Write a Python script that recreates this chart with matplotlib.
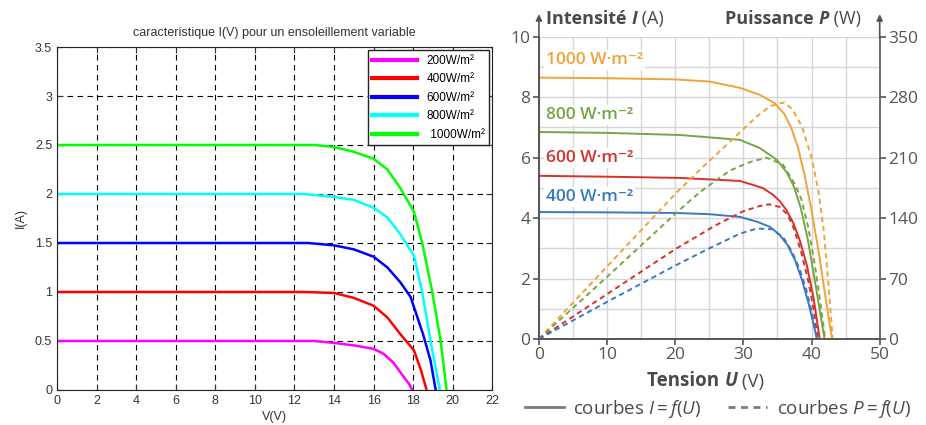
import matplotlib.pyplot as plt
from matplotlib.lines import Line2D
from matplotlib.ticker import MultipleLocator, FormatStrFormatter

plt.rcParams["mathtext.fontset"] = "custom"
plt.rcParams["mathtext.rm"] = "Open Sans"
plt.rcParams["mathtext.it"] = "Open Sans:italic"

# ---- left chart data : I(V)
left_labels = ["200W/m²", "400W/m²", "600W/m²", "800W/m²", " 1000W/m²"]
left_colors = ["#ff00ff", "#ff0000", "#0000ff", "#00ffff", "#00ff00"]
v200 = [0, 12, 13, 14, 15, 16, 16.5, 17, 17.5, 17.8, 17.95]
i200 = [0.5, 0.5, 0.5, 0.48, 0.455, 0.42, 0.37, 0.28, 0.14, 0.06, 0]
v400 = [0, 12.5, 14, 15, 16, 16.7, 17.35, 18.04, 18.4, 18.68]
i400 = [1.0, 1.0, 0.99, 0.94, 0.86, 0.74, 0.57, 0.405, 0.2, 0]
v600 = [0, 12.7, 14, 15, 16, 16.7, 17.35, 17.87, 18.5, 18.88, 19.14]
i600 = [1.5, 1.5, 1.476, 1.435, 1.36, 1.25, 1.1, 0.95, 0.57, 0.3, 0]
v800 = [0, 12.5, 14, 15, 16, 16.7, 17.35, 18.04, 18.46, 18.88, 19.35]
i800 = [2.0, 2.0, 1.97, 1.94, 1.86, 1.76, 1.59, 1.37, 1.0, 0.5, 0]
v1000 = [0, 13, 14, 15, 16, 16.7, 17.35, 18.04, 18.46, 18.97, 19.39, 19.69]
i1000 = [2.5, 2.5, 2.48, 2.43, 2.36, 2.25, 2.06, 1.82, 1.5, 1.0, 0.5, 0]
left_curves = [(v200, i200), (v400, i400), (v600, i600), (v800, i800), (v1000, i1000)]

# ---- right chart data : I(U) and P(U)
right_labels = ["1000 W·m⁻²", "800 W·m⁻²", "600 W·m⁻²", "400 W·m⁻²"]
right_colors = ["#f0a33a", "#77a542", "#d8312b", "#3b78c4"]
label_y = [9.24, 7.42, 6.0, 4.69]

ui1000 = [0, 10, 20, 25, 29.5, 32.4, 34.6, 36, 37, 38, 39, 40, 41, 42, 43]
I1000 = [8.65, 8.63, 8.59, 8.52, 8.31, 8.08, 7.8, 7.45, 7.0, 6.35, 5.4, 4.25, 2.95, 1.45, 0]
up1000 = [0, 10, 20, 23.6, 28.5, 32, 34, 36, 37.2, 38.6, 40, 41, 41.8, 42.5, 43.1]
P1000 = [0, 84, 168, 196, 232, 258, 270, 274, 266, 246, 210, 172, 125, 62, 0]

ui800 = [0, 10, 20.7, 29.5, 32.4, 34.9, 36.4, 37.4, 38.4, 39.4, 40.4, 41.2, 41.9]
I800 = [6.85, 6.82, 6.75, 6.59, 6.32, 5.93, 5.5, 5.05, 4.35, 3.35, 2.05, 0.95, 0]
up800 = [0, 10, 20.7, 23.6, 28, 31, 33.4, 35.8, 37.5, 38.5, 39.5, 40.5, 41.3, 42]
P800 = [0, 72, 150, 170, 195, 205, 210, 202, 180, 162, 130, 85, 42, 0]

ui600 = [0, 10, 20.7, 29.5, 32.8, 34.3, 35.3, 36.3, 37.3, 38.3, 39.3, 40.3, 41.2]
I600 = [5.4, 5.37, 5.33, 5.23, 5.0, 4.78, 4.57, 4.27, 3.85, 3.25, 2.45, 1.35, 0]
up600 = [0, 10, 20, 26, 30, 32.4, 33.8, 35.3, 36.5, 37.5, 38.5, 39.5, 40.3, 40.9]
P600 = [0, 52, 104, 132, 148, 154, 156, 153, 144, 126, 100, 68, 35, 0]

ui400 = [0, 10, 20, 25, 29.5, 32, 33.9, 35.3, 36.5, 37.6, 38.6, 39.6, 40.8]
I400 = [4.2, 4.19, 4.17, 4.13, 4.04, 3.88, 3.71, 3.45, 3.1, 2.6, 1.95, 1.15, 0]
up400 = [0, 10, 20, 25, 29.5, 32, 34.3, 36, 37.2, 38.3, 39.2, 40, 40.8]
P400 = [0, 43, 85, 105, 122, 128, 127, 116, 100, 80, 58, 32, 0]

right_curves = [(ui1000, I1000, up1000, P1000), (ui800, I800, up800, P800),
                (ui600, I600, up600, P600), (ui400, I400, up400, P400)]

fig = plt.figure(figsize=(9.26, 4.25), dpi=100)

# ================= left chart (matlab look)
lfont = "Liberation Sans"
ax1 = fig.add_axes([0.0616, 0.0824, 0.470, 0.807])
for (v, i), c, lab in zip(left_curves, left_colors, left_labels):
    ax1.plot(v, i, color=c, lw=1.8, label=lab)
ax1.set_xlim(0, 22)
ax1.set_ylim(0, 3.5)
ax1.xaxis.set_major_locator(MultipleLocator(2))
ax1.yaxis.set_major_locator(MultipleLocator(0.5))
ax1.yaxis.set_major_formatter(FormatStrFormatter("%g"))
ax1.grid(True, color="black", linestyle=(0, (5, 4)), lw=0.8)
ax1.tick_params(direction="in", top=True, right=True, length=4, labelsize=9,
                colors="#333333")
for lab in ax1.get_xticklabels() + ax1.get_yticklabels():
    lab.set_family(lfont)
for s in ax1.spines.values():
    s.set_color("#222222")
    s.set_linewidth(0.8)
ax1.set_title("caracteristique I(V) pour un ensoleillement variable",
              fontsize=9, family=lfont, color="#333333", pad=8)
ax1.set_xlabel("V(V)", fontsize=9, family=lfont, color="#333333", labelpad=3)
ax1.set_ylabel("I(A)", fontsize=9, family=lfont, color="#333333", labelpad=6)
leg = ax1.legend(loc="upper right", fancybox=False, edgecolor="#222222",
                 framealpha=1, handlelength=3.8, borderaxespad=0.25,
                 labelspacing=0.55, prop={"family": lfont, "size": 8.5})
for h in leg.get_lines():
    h.set_linewidth(3)

# ================= right chart (textbook look)
rfont = ["Open Sans", "DejaVu Sans"]
grey = "#555555"
ax2 = fig.add_axes([0.582, 0.2024, 0.368, 0.711])
ax3 = ax2.twinx()
for (ui, I, up, P), c, lab, ly in zip(right_curves, right_colors, right_labels, label_y):
    ax2.plot(ui, I, color=c, lw=1.4)
    ax3.plot(up, P, color=c, lw=1.4, linestyle=(0, (2.7, 2)))
    ax2.text(1.0, ly, lab, color=c, fontsize=12.5, fontweight="semibold",
             family=rfont, va="center", ha="left",
             bbox=dict(facecolor="white", edgecolor="none", pad=1.5))
ax2.set_xlim(0, 50)
ax2.set_ylim(0, 10)
ax3.set_ylim(0, 350)
ax2.xaxis.set_major_locator(MultipleLocator(10))
ax2.xaxis.set_minor_locator(MultipleLocator(5))
ax2.yaxis.set_major_locator(MultipleLocator(2))
ax2.yaxis.set_minor_locator(MultipleLocator(1))
ax3.yaxis.set_major_locator(MultipleLocator(70))
ax2.grid(True, which="both", color="#d6d6d6", lw=1.0)
ax2.set_axisbelow(True)
for a in (ax2, ax3):
    a.tick_params(which="major", direction="out", length=4, width=1.2,
                  color=grey, labelcolor=grey, labelsize=12.5, pad=2)
    a.tick_params(which="minor", length=0)
    a.spines["top"].set_visible(False)
    for s in a.spines.values():
        s.set_color(grey)
        s.set_linewidth(1.2)
    for lab in a.get_xticklabels() + a.get_yticklabels():
        lab.set_family(rfont)
ax2.spines["right"].set_visible(False)

# axis arrows above the two y axes
for xa in (0, 1):
    ax2.annotate("", xy=(xa, 1.075), xytext=(xa, 0.995), xycoords="axes fraction",
                 arrowprops=dict(arrowstyle="-|>", color=grey, lw=1.2,
                                 mutation_scale=9, shrinkA=0, shrinkB=0))


def chained(x, y, parts, size=13.5):
    # parts: list of (text, weight, style) drawn one after another
    t = fig.text(x, y, parts[0][0], fontsize=size, fontweight=parts[0][1],
                 style=parts[0][2], family=rfont, color="#4a4a4a",
                 ha="left", va="bottom")
    for txt, w, st in parts[1:]:
        t = ax2.annotate(txt, xy=(1, 0), xycoords=t, fontsize=size,
                         fontweight=w, style=st, family=rfont, color="#4a4a4a",
                         ha="left", va="bottom")
    return t


chained(0.590, 0.934, [("Intensité ", "bold", "normal"), ("I", "bold", "italic"),
                       (" (A)", "normal", "normal")], size=13)
chained(0.783, 0.934, [("Puissance ", "bold", "normal"), ("P", "bold", "italic"),
                       (" (W)", "normal", "normal")], size=13)
chained(0.699, 0.081, [("Tension ", "bold", "normal"), ("U", "bold", "italic"),
                       (" (V)", "normal", "normal")])

handles = [Line2D([], [], color="#7a7a7a", lw=2),
           Line2D([], [], color="#7a7a7a", lw=2, linestyle=(0, (2.5, 2)))]
fig.legend(handles, ["courbes $I = f(U)$", "courbes $P = f(U)$"], ncol=2,
           loc="center", bbox_to_anchor=(0.775, 0.038), frameon=False,
           handlelength=2.1, handletextpad=0.5, columnspacing=1.4,
           prop={"family": rfont, "size": 13.5}, labelcolor="#4a4a4a")

fig.savefig("out.png", dpi=100)
